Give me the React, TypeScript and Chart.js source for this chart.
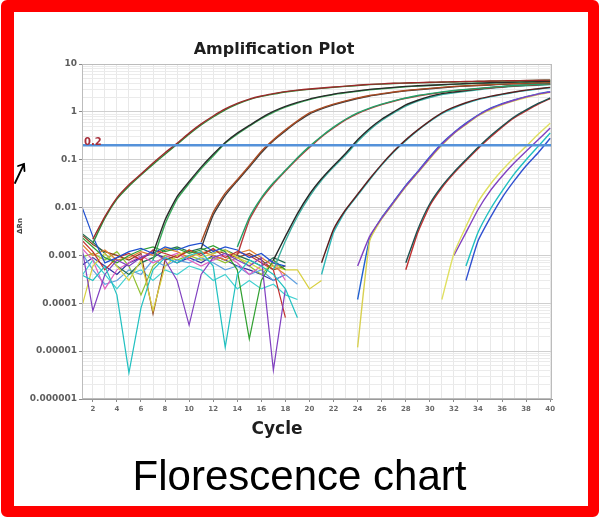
import React, { useEffect, useRef } from "react";
import { Chart, registerables } from "chart.js";

Chart.register(...registerables);

// ---------- axes / labels ----------
const xMin = 1.1;
const xMax = 40.15;
const xTickValues = [2, 4, 6, 8, 10, 12, 14, 16, 18, 20, 22, 24, 26, 28, 30, 32, 34, 36, 38, 40];
const yMin = 0.000001;
const yMax = 10;
const yTickValues = [10, 1, 0.1, 0.01, 0.001, 0.0001, 0.00001, 0.000001];
const yTickLabels = ["10", "1", "0.1", "0.01", "0.001", "0.0001", "0.00001", "0.000001"];
const thresholdValue = 0.2;
const thresholdLabel = "0.2";
const chartTitle = "Amplification Plot";
const xTitle = "Cycle";
const yTitle = "ΔRn";
const caption = "Florescence chart";

// ---------- amplification curves (ΔRn per cycle, starting at the given cycle) ----------
const ampA1 = [0.0022, 0.0065, 0.016, 0.03, 0.05, 0.085, 0.14, 0.22, 0.36, 0.56, 0.82, 1.15, 1.5, 1.85, 2.15, 2.4, 2.65, 2.85, 3.0, 3.15, 3.3, 3.45, 3.6, 3.75, 3.85, 3.95, 4.02, 4.08, 4.15, 4.2, 4.25, 4.3, 4.35, 4.4, 4.45, 4.48, 4.52, 4.56, 4.6];
const ampA2 = [0.0018, 0.006, 0.015, 0.028, 0.048, 0.08, 0.13, 0.21, 0.34, 0.53, 0.78, 1.1, 1.45, 1.8, 2.1, 2.35, 2.6, 2.8, 2.95, 3.1, 3.25, 3.4, 3.55, 3.7, 3.8, 3.9, 3.98, 4.05, 4.1, 4.15, 4.2, 4.25, 4.3, 4.35, 4.4, 4.45, 4.5, 4.55, 4.6];
const ampB1 = [0.0011, 0.0055, 0.017, 0.035, 0.07, 0.13, 0.23, 0.36, 0.52, 0.75, 1.02, 1.3, 1.58, 1.85, 2.1, 2.35, 2.55, 2.75, 2.95, 3.1, 3.25, 3.4, 3.5, 3.6, 3.7, 3.8, 3.9, 3.98, 4.05, 4.12, 4.2, 4.25, 4.3, 4.35];
const ampB2 = [0.0008, 0.0045, 0.015, 0.032, 0.065, 0.12, 0.22, 0.34, 0.5, 0.72, 0.98, 1.25, 1.52, 1.8, 2.05, 2.3, 2.5, 2.7, 2.9, 3.05, 3.2, 3.35, 3.45, 3.55, 3.65, 3.75, 3.85, 3.95, 4.02, 4.1, 4.15, 4.2, 4.28, 4.35];
const ampC1 = [0.0019, 0.008, 0.02, 0.038, 0.075, 0.15, 0.26, 0.42, 0.65, 0.95, 1.2, 1.45, 1.7, 1.95, 2.2, 2.4, 2.6, 2.8, 2.95, 3.1, 3.25, 3.4, 3.5, 3.6, 3.7, 3.8, 3.9, 3.98, 4.05, 4.1];
const ampC2 = [0.0014, 0.007, 0.018, 0.036, 0.07, 0.14, 0.25, 0.4, 0.62, 0.9, 1.15, 1.4, 1.65, 1.9, 2.15, 2.35, 2.55, 2.75, 2.9, 3.05, 3.2, 3.35, 3.45, 3.55, 3.65, 3.75, 3.85, 3.95, 4.0, 4.05];
const ampD1 = [0.0015, 0.0062, 0.016, 0.033, 0.06, 0.11, 0.19, 0.31, 0.48, 0.7, 0.95, 1.2, 1.45, 1.7, 1.95, 2.2, 2.4, 2.6, 2.8, 2.95, 3.1, 3.25, 3.4, 3.55, 3.65, 3.75, 3.85];
const ampD2 = [0.001, 0.0055, 0.015, 0.031, 0.058, 0.105, 0.18, 0.3, 0.46, 0.68, 0.92, 1.17, 1.42, 1.67, 1.92, 2.15, 2.35, 2.55, 2.75, 2.9, 3.05, 3.2, 3.35, 3.5, 3.6, 3.7, 3.8];
const ampE1 = [0.0008, 0.0025, 0.0075, 0.019, 0.04, 0.075, 0.135, 0.26, 0.45, 0.7, 1.0, 1.4, 1.75, 2.1, 2.4, 2.6, 2.8, 3.0, 3.2, 3.35, 3.5, 3.6, 3.7, 3.8];
const ampE2 = [0.0005, 0.002, 0.0065, 0.017, 0.037, 0.07, 0.125, 0.24, 0.42, 0.66, 0.95, 1.32, 1.68, 2.0, 2.3, 2.5, 2.7, 2.9, 3.1, 3.25, 3.4, 3.5, 3.6, 3.7];
const ampF1 = [0.0007, 0.0035, 0.009, 0.019, 0.04, 0.08, 0.15, 0.26, 0.42, 0.65, 0.95, 1.25, 1.55, 1.85, 2.1, 2.35, 2.6, 2.85, 3.05, 3.25];
const ampF2 = [0.0004, 0.003, 0.0085, 0.018, 0.038, 0.077, 0.145, 0.25, 0.41, 0.63, 0.92, 1.2, 1.5, 1.8, 2.05, 2.3, 2.55, 2.8, 3.0, 3.2];
const ampG1 = [0.0006, 0.0025, 0.006, 0.013, 0.028, 0.055, 0.11, 0.21, 0.36, 0.56, 0.84, 1.15, 1.45, 1.75, 2.05, 2.35, 2.6];
const ampG2 = [0.000012, 0.002, 0.0058, 0.0125, 0.027, 0.053, 0.105, 0.2, 0.35, 0.54, 0.82, 1.1, 1.4, 1.7, 2.0, 2.3, 2.55];
const ampG3 = [0.00012, 0.0022, 0.0062, 0.0135, 0.029, 0.057, 0.115, 0.22, 0.37, 0.58, 0.86, 1.18, 1.48, 1.78, 2.08, 2.38, 2.65];
const ampH1 = [0.0007, 0.0035, 0.012, 0.028, 0.055, 0.1, 0.18, 0.31, 0.5, 0.78, 1.1, 1.5, 1.95];
const ampH2 = [0.0005, 0.003, 0.011, 0.026, 0.052, 0.095, 0.17, 0.29, 0.48, 0.75, 1.05, 1.45, 1.9];
const ampI1 = [0.00012, 0.0011, 0.004, 0.013, 0.03, 0.06, 0.11, 0.19, 0.34, 0.58];
const ampI2 = [0.001, 0.003, 0.009, 0.022, 0.045, 0.085, 0.15, 0.26, 0.46];
const ampI3 = [0.0006, 0.003, 0.009, 0.022, 0.05, 0.1, 0.19, 0.36];
const ampI4 = [0.0003, 0.002, 0.006, 0.016, 0.036, 0.075, 0.14, 0.28];

const ampSeries = [ampA1, ampA2, ampB1, ampB2, ampC1, ampC2, ampD1, ampD2, ampE1, ampE2, ampF1, ampF2, ampG1, ampG2, ampG3, ampH1, ampH2, ampI1, ampI2, ampI3, ampI4];
const ampStartCycles = [2, 2, 7, 7, 11, 11, 14, 14, 17, 17, 21, 21, 24, 24, 24, 28, 28, 31, 32, 33, 33];

// ---------- baseline noise (ΔRn per cycle from cycle 1) ----------
const noise1 = [0.012, 0.0025, 0.0007, 0.0009, 0.0012, 0.0014, 0.0011, 0.0015, 0.0013, 0.0016, 0.0018, 0.0012, 0.0015, 0.0013, 0.0009, 0.0011, 0.0007, 0.0006];
const noise2 = [0.0004, 0.0003, 0.0006, 0.00015, 0.0000035, 0.00008, 0.0005, 0.0009, 0.0007, 0.001, 0.0012, 0.0006, 0.000012, 0.0004, 0.0008, 0.0006, 0.0004, 0.0002, 0.00005];
const noise3 = [0.002, 0.00007, 0.0004, 0.0008, 0.0006, 0.0009, 0.0012, 0.0008, 0.0003, 0.000035, 0.0004, 0.0009, 0.0011, 0.0008, 0.0006, 0.0009, 0.000004, 0.0002];
const noise4 = [0.0025, 0.0015, 0.0009, 0.0007, 0.001, 0.0013, 0.0015, 0.0012, 0.0014, 0.0011, 0.0013, 0.0016, 0.0012, 0.0005, 0.000018, 0.0003, 0.0008, 0.0005];
const noise5 = [0.0022, 0.0012, 0.0005, 0.0009, 0.0011, 0.0008, 0.0013, 0.0011, 0.0009, 0.0013, 0.001, 0.0014, 0.0009, 0.0012, 0.001, 0.0007, 0.0005, 0.00005];
const noise6 = [0.00007, 0.0006, 0.0011, 0.0006, 0.0003, 0.0008, 0.00007, 0.0006, 0.001, 0.0013, 0.0009, 0.0011, 0.0013, 0.0009, 0.0007, 0.0005, 0.0006, 0.0005, 0.0005, 0.0002, 0.0003];
const noise7 = [0.0018, 0.001, 0.0013, 0.0008, 0.0009, 0.0012, 0.001, 0.0014, 0.0012, 0.0009, 0.0012, 0.001, 0.0008, 0.0011, 0.0013, 0.0009, 0.0006, 0.0004];
const noise8 = [0.0015, 0.0008, 0.0002, 0.0005, 0.0007, 0.001, 0.0007, 0.0009, 0.0011, 0.0008, 0.0006, 0.0008, 0.001, 0.0007, 0.0004, 0.0006, 0.0008, 0.0003];
const noise9 = [0.003, 0.0019, 0.0011, 0.0006, 0.0004, 0.0007, 0.0009, 0.0013, 0.0015, 0.0012, 0.0014, 0.0011, 0.0013, 0.001, 0.0008, 0.0006, 0.0009, 0.0007];
const noise10 = [0.0012, 0.0005, 0.00025, 0.0003, 0.0005, 0.0004, 0.0008, 0.0006, 0.0008, 0.0007, 0.0009, 0.0007, 0.0005, 0.0006, 0.0004, 0.0005, 0.0003, 0.0004, 0.00025];
const noise11 = [0.0028, 0.0017, 0.0012, 0.001, 0.0008, 0.0011, 0.00006, 0.0008, 0.001, 0.0012, 0.0011, 0.0013, 0.0011, 0.0009, 0.0011, 0.0008, 0.0005, 0.0006];
const noise12 = [0.0009, 0.0011, 0.0008, 0.0012, 0.0006, 0.00015, 0.0006, 0.001, 0.0008, 0.001, 0.0008, 0.0009, 0.0007, 0.0009, 0.0006, 0.0004, 0.0007, 0.0005];
const noise13 = [0.0006, 0.0009, 0.0006, 0.0004, 0.0007, 0.0009, 0.0011, 0.0009, 0.0007, 0.0009, 0.0007, 0.001, 0.0008, 0.0006, 0.0005, 0.0004, 0.0003, 0.0004];
const noise14 = [0.00035, 0.0008, 0.0004, 0.0002, 0.0004, 0.0005, 0.0003, 0.0005, 0.0004, 0.0006, 0.0005, 0.0003, 0.0004, 0.0002, 0.0003, 0.0002, 0.00025, 0.00015, 0.00012];

const noiseSeries = [noise1, noise2, noise3, noise4, noise5, noise6, noise7, noise8, noise9, noise10, noise11, noise12, noise13, noise14];
const noiseStartCycle = 1;

// ---------- styles ----------
const ampColors = [
  "#9a2a2a", "#2f8a3a", "#2a2a2a", "#38a858", "#a84a22", "#3a3a3a", "#22a068", "#b83a3a",
  "#262626", "#3cb0a0", "#5a1e1e", "#30b8b8", "#8040c0", "#d8d050", "#2060d0", "#1e5050",
  "#c03030", "#e0e060", "#8040c0", "#20c0c0", "#3050d0",
];
const noiseColors = [
  "#2050d0", "#20c0c0", "#8040c0", "#30a030", "#c03030", "#d8d040", "#e08030",
  "#e060c0", "#207050", "#60a0e0", "#904020", "#90c030", "#3030a0", "#40d0d0",
];
const FONT = "'DejaVu Sans', Verdana, sans-serif";

function toPoints(start: number, values: number[]) {
  return values.map((v, i) => ({ x: start + i, y: v }));
}

function isDecade(v: number) {
  const l = Math.log10(v);
  return Math.abs(l - Math.round(l)) < 1e-9;
}

const overlayPlugin = {
  id: "overlayTexts",
  afterDraw(chart: any) {
    const { ctx, chartArea: a, scales } = chart;
    ctx.save();
    // plot frame
    ctx.strokeStyle = "#bcbcbc";
    ctx.lineWidth = 1;
    ctx.strokeRect(a.left + 0.5, a.top + 0.5, a.right - a.left - 1, a.bottom - a.top - 1);
    // threshold label
    const ty = scales.y.getPixelForValue(thresholdValue);
    ctx.fillStyle = "#a8303c";
    ctx.font = `bold 10px ${FONT}`;
    ctx.textAlign = "left";
    ctx.textBaseline = "alphabetic";
    ctx.fillText(thresholdLabel, a.left + 2, ty - 0.5);
    // title
    ctx.fillStyle = "#1e1e1e";
    ctx.font = `bold 16px ${FONT}`;
    ctx.textAlign = "center";
    ctx.fillText(chartTitle, 274, 54);
    // x title
    ctx.font = `bold 17px ${FONT}`;
    ctx.fillText(xTitle, 277, 434);
    // y title
    ctx.save();
    ctx.translate(20, 226);
    ctx.rotate(-Math.PI / 2);
    ctx.font = `bold 7px ${FONT}`;
    ctx.fillStyle = "#444";
    ctx.textBaseline = "middle";
    ctx.fillText(yTitle, 0, 0);
    ctx.restore();
    // hand-drawn arrow
    ctx.strokeStyle = "#000";
    ctx.lineWidth = 1.8;
    ctx.lineCap = "round";
    ctx.beginPath();
    ctx.moveTo(15, 183);
    ctx.lineTo(24, 164);
    ctx.moveTo(18, 166);
    ctx.lineTo(24, 164);
    ctx.lineTo(24.5, 171);
    ctx.stroke();
    ctx.restore();
  },
};

export default function App() {
  const canvasRef = useRef<HTMLCanvasElement>(null);

  useEffect(() => {
    const canvas = canvasRef.current;
    if (!canvas) return;

    const datasets: any[] = [];
    datasets.push({
      label: "threshold",
      data: [
        { x: xMin, y: thresholdValue },
        { x: xMax, y: thresholdValue },
      ],
      borderColor: "#5592da",
      borderWidth: 2.6,
      pointRadius: 0,
    });
    ampSeries.forEach((vals, i) => {
      datasets.push({
        label: `amp${i}`,
        data: toPoints(ampStartCycles[i], vals),
        borderColor: ampColors[i],
        borderWidth: 1.4,
        pointRadius: 0,
        tension: 0.15,
      });
    });
    noiseSeries.forEach((vals, i) => {
      datasets.push({
        label: `noise${i}`,
        data: toPoints(noiseStartCycle, vals),
        borderColor: noiseColors[i],
        borderWidth: 1.2,
        pointRadius: 0,
        tension: 0,
      });
    });

    const chart = new Chart(canvas, {
      type: "line",
      data: { datasets },
      options: {
        animation: false,
        responsive: false,
        events: [],
        layout: { padding: { left: 15, top: 64, right: 47, bottom: 90 } },
        plugins: {
          legend: { display: false },
          title: { display: false },
          tooltip: { enabled: false },
        },
        scales: {
          x: {
            type: "linear",
            min: xMin,
            max: xMax,
            afterBuildTicks: (scale: any) => {
              const t: any[] = [];
              for (let c = 2; c <= 40; c++) t.push({ value: c });
              scale.ticks = t;
            },
            afterFit: (scale: any) => {
              scale.height = 30;
            },
            ticks: {
              autoSkip: false,
              maxRotation: 0,
              padding: 3,
              color: "#6a6a6a",
              font: { family: FONT, size: 7, weight: "bold" },
              callback: (v: any) => (xTickValues.includes(Number(v)) ? String(v) : ""),
            },
            grid: {
              color: "#e8e8e8",
              lineWidth: 1,
              tickLength: 3,
              tickColor: (ctx: any) => (ctx.tick && xTickValues.includes(ctx.tick.value) ? "#8a8a8a" : "rgba(0,0,0,0)"),
            },
            border: { color: "#9a9a9a", width: 1 },
          },
          y: {
            type: "logarithmic",
            min: yMin,
            max: yMax,
            afterBuildTicks: (scale: any) => {
              const t: any[] = [];
              for (let e = -6; e <= 0; e++) {
                for (let m = 1; m <= 9; m++) t.push({ value: m * Math.pow(10, e) });
              }
              t.push({ value: 10 });
              scale.ticks = t;
            },
            afterFit: (scale: any) => {
              scale.width = 67;
            },
            ticks: {
              autoSkip: false,
              padding: 2,
              color: "#5e5e5e",
              font: { family: FONT, size: 9, weight: "bold" },
              callback: (v: any) => {
                const n = Number(v);
                const idx = yTickValues.findIndex((tv) => Math.abs(tv - n) / tv < 1e-6);
                return idx >= 0 ? yTickLabels[idx] : "";
              },
            },
            grid: {
              color: (ctx: any) => (ctx.tick && isDecade(ctx.tick.value) ? "#cfcfcf" : "#ebebeb"),
              lineWidth: 1,
              tickLength: 3,
              tickColor: (ctx: any) => (ctx.tick && isDecade(ctx.tick.value) ? "#8a8a8a" : "rgba(0,0,0,0)"),
            },
            border: { color: "#9a9a9a", width: 1 },
          },
        },
      } as any,
      plugins: [overlayPlugin],
    });

    return () => chart.destroy();
  }, []);

  return (
    <div
      style={{
        position: "absolute",
        left: 0,
        top: 0,
        width: 599,
        height: 519,
        background: "#ffffff",
        overflow: "hidden",
      }}
    >
      <canvas
        ref={canvasRef}
        width={599}
        height={519}
        style={{ position: "absolute", left: 0, top: 0, width: 599, height: 519 }}
      />
      <div
        style={{
          position: "absolute",
          left: 0,
          top: 455,
          width: 599,
          textAlign: "center",
          fontFamily: "'Liberation Sans', Arial, sans-serif",
          fontSize: 42,
          lineHeight: "42px",
          color: "#000",
          whiteSpace: "nowrap",
        }}
      >
        {caption}
      </div>
      <div
        style={{
          position: "absolute",
          left: 1,
          top: 0,
          width: 598,
          height: 517,
          boxSizing: "border-box",
          borderStyle: "solid",
          borderColor: "#ff0000",
          borderWidth: "12px 11px 11px 13px",
          borderRadius: 6,
          pointerEvents: "none",
        }}
      />
    </div>
  );
}
